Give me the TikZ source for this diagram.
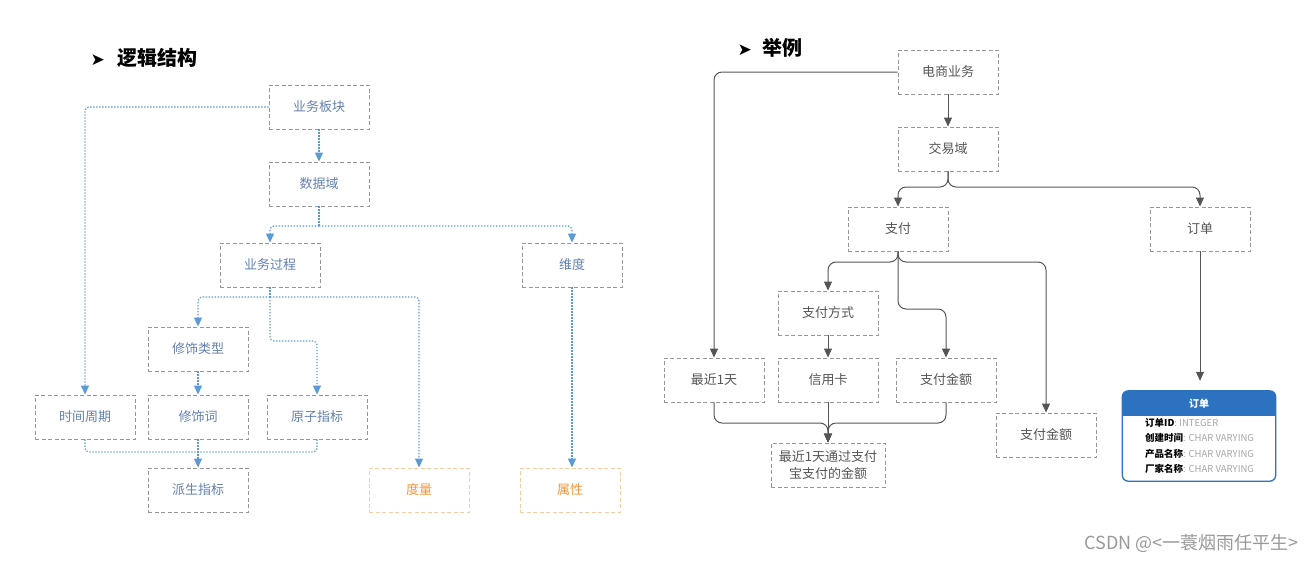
\documentclass[tikz,border=0pt]{standalone}
\usepackage{fontspec}
\setmainfont{Noto Sans CJK SC}
\newfontfamily\symfont{DejaVu Sans}
\usetikzlibrary{arrows.meta,positioning}
\definecolor{LineBlue}{RGB}{91,155,213}
\definecolor{TextBlue}{RGB}{98,128,176}
\definecolor{BoxGray}{RGB}{150,150,150}
\definecolor{TextOrange}{RGB}{240,150,60}
\definecolor{BoxOrange}{RGB}{246,204,160}
\definecolor{LineGray}{RGB}{85,85,85}
\definecolor{TextGray}{RGB}{85,85,85}
\definecolor{TableBlue}{RGB}{44,114,192}
\definecolor{ValGray}{RGB}{165,165,165}

\begin{document}
\begin{tikzpicture}[x=1pt,y=-1pt,
  box/.style={draw=BoxGray,dash pattern=on 4pt off 2.5pt,line width=0.9pt,minimum width=100pt,minimum height=44pt,inner sep=0pt,font=\fontsize{13}{17}\selectfont},
  lbox/.style={box,text=TextBlue},
  obox/.style={box,draw=BoxOrange,text=TextOrange},
  rbox/.style={box,text=TextGray},
  bline/.style={LineBlue,line width=1.2pt,dash pattern=on 1.4pt off 1.6pt,rounded corners=4pt,-{Triangle[length=9pt,width=8pt]}},
  gline/.style={LineGray,line width=1pt,rounded corners=8pt,-{Triangle[length=9pt,width=8pt]}},
  title/.style={anchor=west,font=\fontsize{20}{24}\selectfont\bfseries},
  row/.style={anchor=west,inner sep=0pt,font=\fontsize{9.5}{11}\selectfont}]
\useasboundingbox (0,0) rectangle (1315,560);
\node[title] (t1) at (87,58) {{\symfont\fontsize{17}{24}\selectfont ➤}\hspace{13pt}逻辑结构};
\node[title] (t2) at (734,48) {{\symfont\fontsize{17}{24}\selectfont ➤}\hspace{11pt}举例};
\foreach \n/\x/\y/\lab in {bk/319/107/业务板块,sjy/319/184/数据域,ywgc/270/265/业务过程,wd/572/265/维度,xslx/198/349/修饰类型,sjzq/85/417/时间周期,xsc/198/417/修饰词,yzzb/317/417/原子指标,pszb/198/490/派生指标}
  {\node[lbox] (\n) at (\x,\y) {\lab};}
\node[obox] (dl) at (419,490) {度量};
\node[obox] (sx) at (570,490) {属性};
\coordinate (s1) at (319,226);
\coordinate (s2) at (270,297);
\coordinate (s3) at (198,452);
\draw[bline] (bk.west) -| (sjzq.north);
\draw[bline] (bk) -- (sjy);
\draw[bline,-] (sjy.south) -- (s1);
\draw[bline] (s1) -| (ywgc.north);
\draw[bline] (s1) -| (wd.north);
\draw[bline,-] (ywgc.south) -- (s2);
\draw[bline] (s2) -| (xslx.north);
\draw[bline] (s2) -| (dl.north);
\draw[bline] (s2) -- (270,341) -| (yzzb.north);
\draw[bline] (xslx) -- (xsc);
\draw[bline] (wd.south) -- (wd.south |- sx.north);
\draw[bline,-] (sjzq.south) |- (s3);
\draw[bline,-] (yzzb.south) |- (s3);
\draw[bline] (xsc) -- (pszb);
\foreach \n/\x/\y/\lab in {dsyw/948/72/电商业务,jyy/948/149/交易域,zf/898/229/支付,dd/1200/229/订单,zffs/828/313/支付方式,zj1t/714/380/最近1天,xyk/828/380/信用卡,zfje/946/380/支付金额,zfje2/1046/435/支付金额}
  {\node[rbox] (\n) at (\x,\y) {\lab};}
\node[rbox,minimum width=114pt,align=center] (jg) at (828,465) {最近1天通过支付\\宝支付的金额};
\draw[gline] (dsyw.west) -| (zj1t.north);
\draw[gline] (dsyw) -- (jyy);
\draw[gline] (jyy.south) -- (948,187) -| (zf.north);
\draw[gline] (jyy.south) -- (948,187) -| (dd.north);
\draw[gline] (zf.south) -- (898,262) -| (zffs.north);
\draw[gline] (zf.south) -- (898,262) -| (zfje2.north);
\draw[gline] (zf.south) -- (898,309) -| (zfje.north);
\draw[gline] (zffs) -- (xyk);
\draw[gline] (zj1t.south) |- (828,423) -- (jg.north);
\draw[gline] (zfje.south) |- (828,423) -- (jg.north);
\draw[gline] (xyk) -- (jg);
\node[minimum width=153pt,minimum height=90pt,inner sep=0pt] (tbl) at (1199,436) {};
\fill[TableBlue] ([yshift=-25pt]tbl.north west) [rounded corners=6pt] -- (tbl.north west) -- (tbl.north east) [sharp corners] -- ([yshift=-25pt]tbl.north east) -- cycle;
\node[text=white,font=\fontsize{10}{12}\selectfont\bfseries] (th) at ([yshift=-12.5pt]tbl.north) {订单};
\draw[TableBlue,line width=1.3pt,rounded corners=6pt] (tbl.north west) rectangle (tbl.south east);
\foreach \n/\y/\k/\v in {r1/423/订单ID/INTEGER,r2/438/创建时间/CHAR VARYING,r3/454/产品名称/CHAR VARYING,r4/469/厂家名称/CHAR VARYING}
  {\node[row] (\n) at (1145,\y) {\textbf{\k}\textcolor{ValGray}{: \v}};}
\draw[gline,shorten >=10pt] (dd.south) -- (dd.south |- tbl.north);
\node[anchor=east,text=gray!80,font=\fontsize{18}{20}\selectfont] (wm) at (1302,543) {CSDN @<一蓑烟雨任平生>};
\end{tikzpicture}
\end{document}
